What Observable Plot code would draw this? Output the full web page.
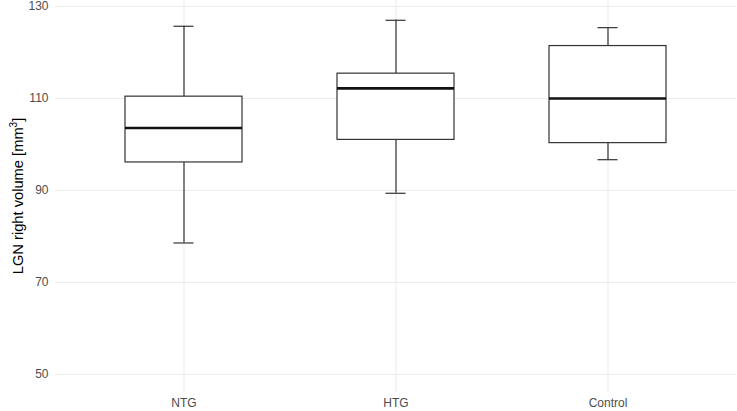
<!DOCTYPE html>
<html><head><meta charset="utf-8">
<script src="https://cdn.jsdelivr.net/npm/d3@7"></script>
<script src="https://cdn.jsdelivr.net/npm/@observablehq/plot@0.6"></script>
<style>body{margin:0;background:#fff;}</style>
</head><body><div id="chart"></div>
<script>
const groups = ["NTG", "HTG", "Control"];
const lowerWhisker = [78.6, 89.4, 96.7];
const q1 = [96.1, 101.0, 100.3];
const median = [103.6, 112.2, 110.0];
const q3 = [110.4, 115.4, 121.4];
const upperWhisker = [125.7, 127.0, 125.4];
const yTicks = [50, 70, 90, 110, 130];

const data = groups.map((g, i) => ({group: g, lo: lowerWhisker[i], q1: q1[i], med: median[i], q3: q3[i], hi: upperWhisker[i]}));

const boxStroke = "#333333";
const sw = 1.2;
const capInset = 48.5;

const svg = Plot.plot({
  width: 737,
  height: 411,
  marginLeft: 55,
  marginRight: 1,
  marginTop: 0,
  marginBottom: 19,
  style: {fontFamily: "'Liberation Sans', Arial, Helvetica, sans-serif", fontSize: "12px", color: "#4D4D4D", background: "white"},
  x: {type: "band", domain: groups, paddingInner: 0.45, paddingOuter: 0.325, tickSize: 0, tickPadding: 6, label: null},
  y: {domain: [46.1, 131.3], ticks: yTicks, tickSize: 0, tickPadding: 7, label: null},
  marks: [
    Plot.ruleY(yTicks, {y: d => d, stroke: "#EBEBEB", strokeWidth: 1.1}),
    Plot.ruleX(groups, {x: d => d, stroke: "#EBEBEB", strokeWidth: 1.1}),
    Plot.ruleX(data, {x: "group", y1: "lo", y2: "q1", stroke: boxStroke, strokeWidth: sw}),
    Plot.ruleX(data, {x: "group", y1: "q3", y2: "hi", stroke: boxStroke, strokeWidth: sw}),
    Plot.tickY(data, {x: "group", y: "lo", insetLeft: capInset, insetRight: capInset, stroke: boxStroke, strokeWidth: sw}),
    Plot.tickY(data, {x: "group", y: "hi", insetLeft: capInset, insetRight: capInset, stroke: boxStroke, strokeWidth: sw}),
    Plot.barY(data, {x: "group", y1: "q1", y2: "q3", fill: "white", stroke: boxStroke, strokeWidth: sw}),
    Plot.tickY(data, {x: "group", y: "med", stroke: "#111111", strokeWidth: 2.6})
  ]
});
document.getElementById("chart").appendChild(svg);

const t = d3.select(svg).append("text")
  .attr("transform", "translate(23,196) rotate(-90)")
  .attr("text-anchor", "middle")
  .attr("fill", "#000")
  .style("font-family", "'Liberation Sans', Arial, Helvetica, sans-serif")
  .style("font-size", "14.7px");
t.append("tspan").text("LGN right volume [mm");
t.append("tspan").attr("dy", -6).style("font-size", "10px").text("3");
t.append("tspan").attr("dy", 6).text("]");
</script>
</body></html>
